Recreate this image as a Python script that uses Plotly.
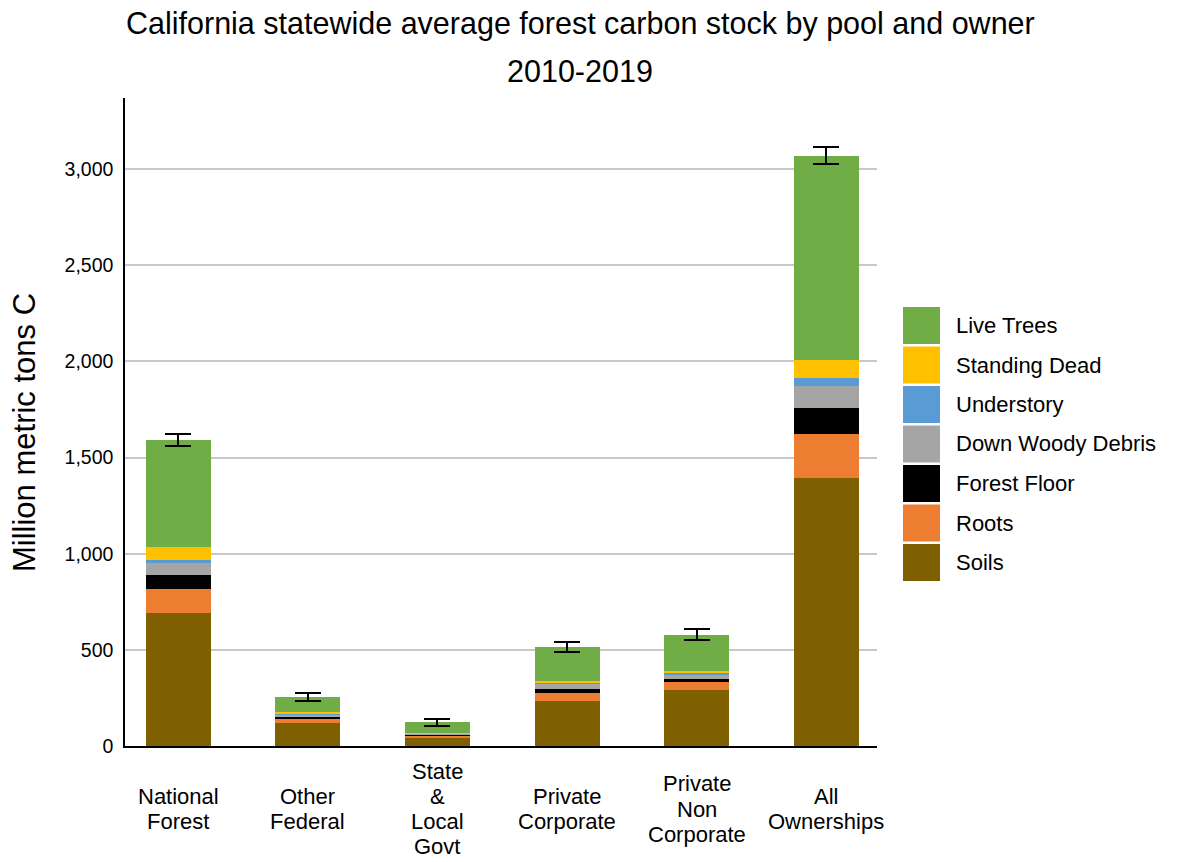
import plotly.graph_objects as go

categories = ["National Forest", "Other Federal", "State & Local Govt",
              "Private Corporate", "Private Non Corporate", "All Ownerships"]
category_label_lines = [["National", "Forest"], ["Other", "Federal"],
                        ["State", "&", "Local", "Govt"], ["Private", "Corporate"],
                        ["Private", "Non", "Corporate"], ["All", "Ownerships"]]

soils = [693, 118, 45, 234, 291, 1394]
roots = [123, 20, 10, 40, 40, 227]
forest_floor = [73, 14, 4, 24, 19, 139]
down_woody_debris = [64, 12, 4, 28, 24, 113]
understory = [14, 3, 2, 4, 7, 39]
standing_dead = [69, 8, 3, 9, 9, 98]
live_trees = [555, 79, 55, 178, 189, 1059]
error_total = [31, 20, 20, 26, 30, 44]

y_ticks = [0, 500, 1000, 1500, 2000, 2500, 3000]

series = [
    ("Soils", soils, "#7F6000"),
    ("Roots", roots, "#ED7D31"),
    ("Forest Floor", forest_floor, "#000000"),
    ("Down Woody Debris", down_woody_debris, "#A5A5A5"),
    ("Understory", understory, "#5B9BD5"),
    ("Standing Dead", standing_dead, "#FFC000"),
    ("Live Trees", live_trees, "#70AD47"),
]

FONT = "Liberation Sans, Arial, sans-serif"
W, H = 1183, 862
L, R, T, B = 125, 306, 98, 116
PW, PH = W - L - R, H - T - B


def px_x(px):
    return (px - L) / PW


def px_y(py):
    return (H - B - py) / PH


fig = go.Figure()
for name, vals, color in series:
    kw = {}
    if name == "Live Trees":
        kw["error_y"] = dict(type="data", array=error_total, visible=True,
                             color="#000000", thickness=2, width=13)
    fig.add_trace(go.Bar(x=categories, y=vals, name=name, marker_color=color,
                         marker_line_width=0, width=0.5, showlegend=False, **kw))

# custom legend (large square swatches), top item = Live Trees
shapes = []
annotations = []
for i, (name, vals, color) in enumerate(reversed(series)):
    top = 307 + i * 39.5
    shapes.append(dict(type="rect", xref="paper", yref="paper",
                       x0=px_x(903), x1=px_x(940), y0=px_y(top + 37), y1=px_y(top),
                       fillcolor=color, line_width=0))
    annotations.append(dict(xref="paper", yref="paper", x=px_x(954), y=px_y(top + 18.5),
                            text=name, showarrow=False, xanchor="left", yanchor="middle",
                            font=dict(family=FONT, size=22, color="#000000")))

LINE_PITCH = 25.3
for cat, lines in zip(categories, category_label_lines):
    n = len(lines)
    for j, line in enumerate(lines):
        cy = 809 + (j - (n - 1) / 2) * LINE_PITCH
        annotations.append(dict(xref="x", yref="paper", x=cat, y=px_y(cy), text=line,
                                showarrow=False, xanchor="center", yanchor="middle",
                                borderpad=0,
                                font=dict(family=FONT, size=22, color="#000000")))

annotations.append(dict(xref="paper", yref="paper", x=px_x(580), y=px_y(23),
                        text="California statewide average forest carbon stock by pool and owner",
                        showarrow=False, xanchor="center", yanchor="middle",
                        font=dict(family=FONT, size=30.5, color="#000000")))
annotations.append(dict(xref="paper", yref="paper", x=px_x(580), y=px_y(71),
                        text="2010-2019", showarrow=False, xanchor="center", yanchor="middle",
                        font=dict(family=FONT, size=30.5, color="#000000")))
annotations.append(dict(xref="paper", yref="paper", x=px_x(24), y=px_y(433),
                        text="Million metric tons C", textangle=-90, showarrow=False,
                        xanchor="center", yanchor="middle",
                        font=dict(family=FONT, size=31, color="#000000")))

fig.update_layout(
    width=W, height=H,
    margin=dict(l=L, r=R, t=T, b=B, autoexpand=False),
    paper_bgcolor="white", plot_bgcolor="white",
    barmode="stack", bargap=0.5,
    showlegend=False,
    shapes=shapes, annotations=annotations,
    font=dict(family=FONT, color="#000000"),
)
fig.update_xaxes(type="category", range=[-0.41, 5.39], showticklabels=False,
                 showline=True, linecolor="#000000", linewidth=1.5,
                 showgrid=False, ticks="")
fig.update_yaxes(range=[0, 3370], tickvals=y_ticks, tickformat=",",
                 showline=True, linecolor="#000000", linewidth=1.5,
                 showgrid=True, gridcolor="#C8C8C8", gridwidth=1.5,
                 zeroline=False, ticks="", ticklabelstandoff=6,
                 tickfont=dict(family=FONT, size=19.5, color="#000000"))

fig.write_html("out.html", config={"displayModeBar": False},
               post_script="document.body.style.margin='0px';document.body.style.padding='0px';")
